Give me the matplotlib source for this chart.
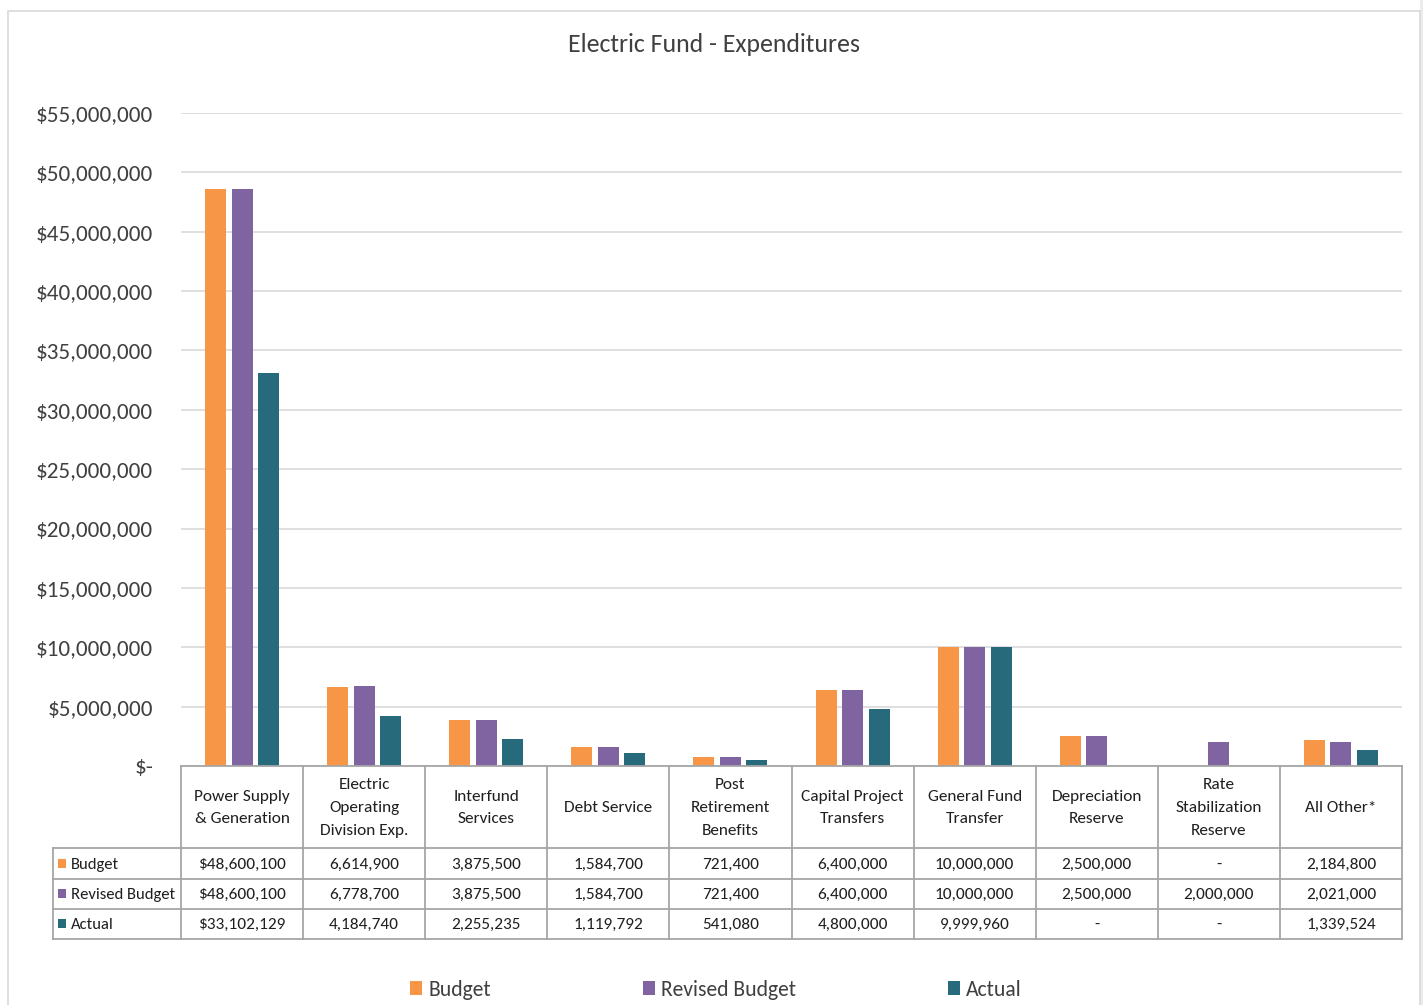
import matplotlib
matplotlib.use('Agg')
import matplotlib.pyplot as plt
import numpy as np
from matplotlib.patches import Rectangle, Patch

plt.rcParams['font.family'] = ['Carlito', 'DejaVu Sans']

# --- Data ---
categories = ['Power Supply\n& Generation', 'Electric\nOperating\nDivision Exp.', 'Interfund\nServices',
              'Debt Service', 'Post\nRetirement\nBenefits', 'Capital Project\nTransfers',
              'General Fund\nTransfer', 'Depreciation\nReserve', 'Rate\nStabilization\nReserve', 'All Other*']
series_names = ['Budget', 'Revised Budget', 'Actual']
budget = [48600100, 6614900, 3875500, 1584700, 721400, 6400000, 10000000, 2500000, 0, 2184800]
revised_budget = [48600100, 6778700, 3875500, 1584700, 721400, 6400000, 10000000, 2500000, 2000000, 2021000]
actual = [33102129, 4184740, 2255235, 1119792, 541080, 4800000, 9999960, 0, 0, 1339524]
colors = ['#F79646', '#8064A2', '#276A7C']
yticks = np.arange(0, 55000001, 5000000)

W, H = 1423, 1005
fig = plt.figure(figsize=(W / 100, H / 100), dpi=100)
TEXT = '#404040'
CELL = '#1F1F1F'
GRID = '#D9D9D9'
BORDER = '#A6A6A6'

# outer chart frame
fig.patches.append(Rectangle((1420 / W, 0), 3 / W, 1, transform=fig.transFigure,
                             facecolor='#EBEBEB', edgecolor='none'))
fig.patches.append(Rectangle((8 / W, -0.01), 1412 / W, 1 - 11 / H + 0.01, transform=fig.transFigure,
                             facecolor='none', edgecolor=GRID, lw=1.2))

# --- Bars ---
left, right, top, base = 181, 1402, 113, 766
ax = fig.add_axes([left / W, 1 - base / H, (right - left) / W, (base - top) / H])
n = len(categories)
x = np.arange(n)
col_px = (right - left) / n
bw = 21 / col_px
step = 26.5 / col_px
for i, (vals, c) in enumerate(zip([budget, revised_budget, actual], colors)):
    ax.bar(x + (i - 1) * step, vals, width=bw, color=c, zorder=3)

ax.set_xlim(-0.5, n - 0.5)
ax.set_ylim(0, 55000000)
ax.set_yticks(yticks)
ax.set_yticklabels(['$-' if v == 0 else f'${v:,.0f}' for v in yticks])
ax.tick_params(axis='y', length=0, pad=20, labelsize=16.7, labelcolor=TEXT)
ax.set_xticks([])
ax.grid(axis='y', color=GRID, lw=1.2, zorder=0)
for s in ax.spines.values():
    s.set_visible(False)

fig.text(714 / W, 1 - 45 / H, 'Electric Fund - Expenditures', ha='center', va='center',
         fontsize=18.5, color=TEXT)

# --- Data table below the axis ---
tab = fig.add_axes([0, 0, 1, 1])
tab.set_xlim(0, W)
tab.set_ylim(H, 0)
tab.axis('off')
row_edges = [766, 848, 879, 909, 939]
label_left = 53
col_edges = [left + k * col_px for k in range(n + 1)]
for xe in col_edges:
    tab.plot([xe, xe], [row_edges[0], row_edges[-1]], color=BORDER, lw=1.3)
tab.plot([label_left, label_left], [row_edges[1], row_edges[-1]], color=BORDER, lw=1.3)
tab.plot([left, right], [row_edges[0], row_edges[0]], color=BORDER, lw=1.3)
for ye in row_edges[1:]:
    tab.plot([label_left, right], [ye, ye], color=BORDER, lw=1.3)

for k, cat in enumerate(categories):
    tab.text(col_edges[k] + col_px / 2, (row_edges[0] + row_edges[1]) / 2 + 1, cat,
             ha='center', va='center', fontsize=12.4, color=CELL, linespacing=1.8)


def fmt(v, first):
    if v == 0:
        return '-'
    return f'${v:,.0f}' if first else f'{v:,.0f}'


for r, (name, vals, c) in enumerate(zip(series_names, [budget, revised_budget, actual], colors)):
    yc = (row_edges[r + 1] + row_edges[r + 2]) / 2
    tab.add_patch(Rectangle((58, yc - 5), 8, 9, facecolor=c, edgecolor='none'))
    tab.text(71, yc + 1, name, ha='left', va='center', fontsize=12.0, color=CELL)
    for k, v in enumerate(vals):
        tab.text(col_edges[k] + col_px / 2, yc + 1, fmt(v, k == 0), ha='center', va='center',
                 fontsize=12.4, color=CELL)

# --- Legend ---
handles = [Patch(facecolor=c, edgecolor='none') for c in colors]
fig.legend(handles, series_names, loc='center', bbox_to_anchor=(716 / W, 1 - 990 / H), ncol=3,
           frameon=False, fontsize=15.6, handlelength=0.55, handleheight=0.6, handletextpad=0.3,
           columnspacing=7.0, labelcolor=TEXT)

fig.savefig('out.png', dpi=100, facecolor='white')
